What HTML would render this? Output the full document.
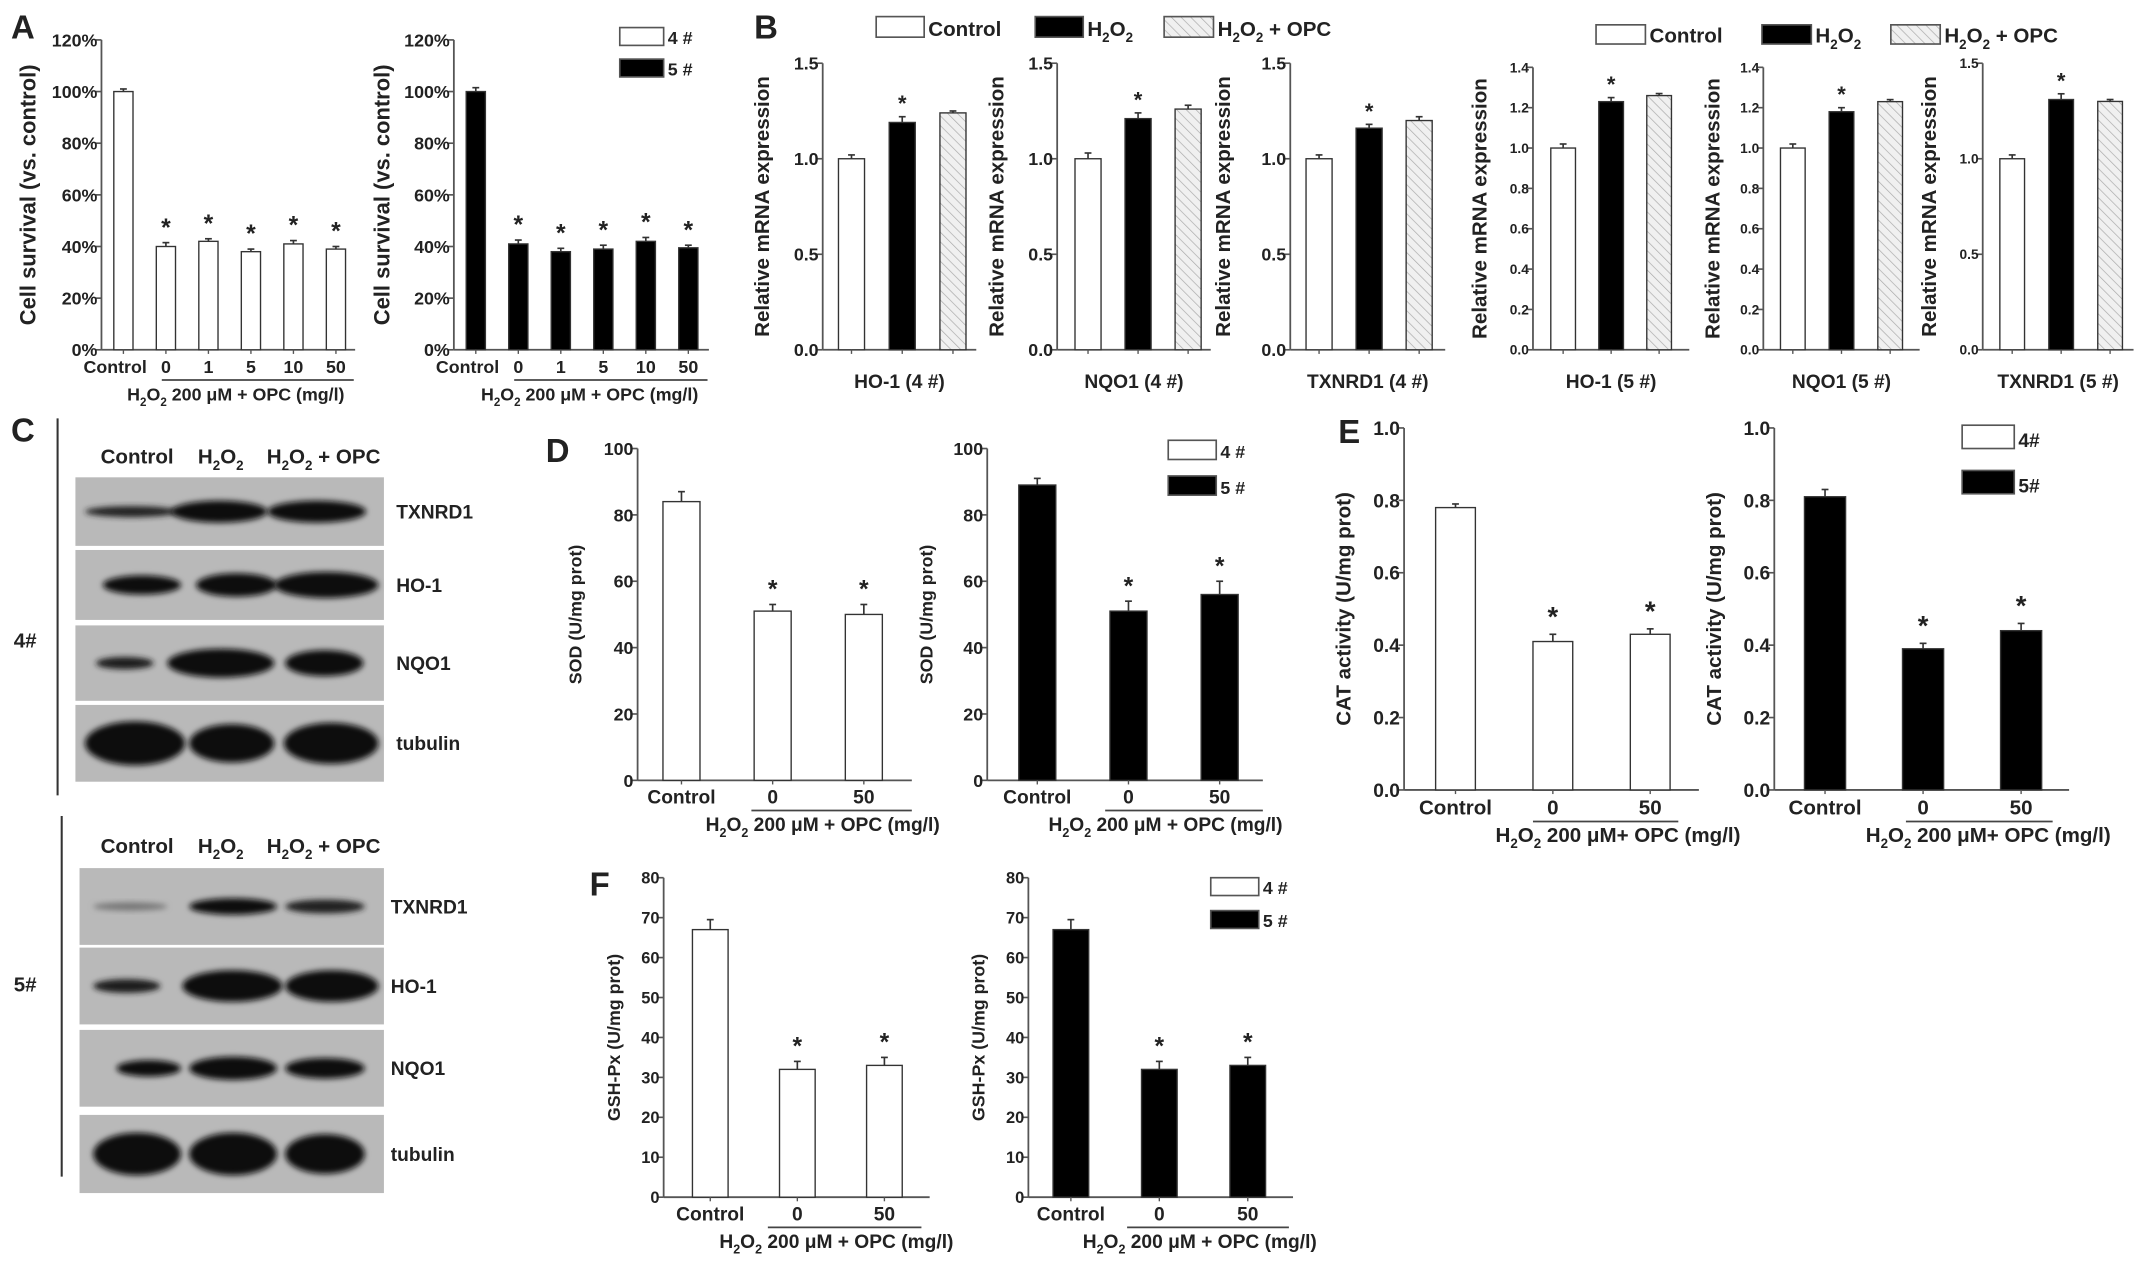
<!DOCTYPE html>
<html><head><meta charset="utf-8"><style>
html,body{margin:0;padding:0;background:#fff;}
svg{display:block;font-family:"Liberation Sans",sans-serif;font-weight:bold;}
</style></head><body>
<svg id="fig" xmlns="http://www.w3.org/2000/svg" width="2150" height="1270" viewBox="0 0 1568 926">
<defs>
<pattern id="hatch" patternUnits="userSpaceOnUse" width="5" height="5" patternTransform="rotate(-45)">
<rect width="5" height="5" fill="#f0f0f0"/><line x1="0" y1="0" x2="0" y2="5" stroke="#aaa" stroke-width="1"/>
</pattern>
<filter id="blur" x="-20%" y="-50%" width="140%" height="200%"><feGaussianBlur stdDeviation="2.2"/></filter>
</defs>
<g id="charts"></g>
<g id="blots"></g>
</svg>
<script>
// ---- data ----
const survCats=["Control","0","1","5","10","50"];
const surv4=[100,40,42,38,41,39];
const surv4Err=[1,1.5,1,1,1.3,1];
const surv5=[100,41,38,39,42,39.5];
const surv5Err=[1.5,1.5,1.3,1.5,1.5,1];
const survStars=[false,true,true,true,true,true];
const survTicks=[0,20,40,60,80,100,120];
const mrnaGroups=["Control","H2O2","H2O2 + OPC"];
const ho1_4=[1.0,1.19,1.24], ho1_4Err=[0.02,0.03,0.01];
const nqo1_4=[1.0,1.21,1.26], nqo1_4Err=[0.03,0.03,0.02];
const txnrd1_4=[1.0,1.16,1.20], txnrd1_4Err=[0.02,0.02,0.02];
const ho1_5=[1.0,1.23,1.26], ho1_5Err=[0.02,0.02,0.01];
const nqo1_5=[1.0,1.18,1.23], nqo1_5Err=[0.02,0.02,0.01];
const txnrd1_5=[1.0,1.31,1.30], txnrd1_5Err=[0.02,0.03,0.01];
const mrnaStars=[false,true,false];
const ticks15=[0,0.5,1.0,1.5];
const ticks14=[0,0.2,0.4,0.6,0.8,1.0,1.2,1.4];
const enzCats=["Control","0","50"];
const sod4=[84,51,50], sod4Err=[3,2,3];
const sod5=[89,51,56], sod5Err=[2,3,4];
const cat4=[0.78,0.41,0.43], cat4Err=[0.01,0.02,0.015];
const cat5=[0.81,0.39,0.44], cat5Err=[0.02,0.015,0.02];
const gsh4=[67,32,33], gsh4Err=[2.5,2,2];
const gsh5=[67,32,33], gsh5Err=[2.5,2,2];
const enzStars=[false,true,true];
const sodTicks=[0,20,40,60,80,100];
const catTicks=[0,0.2,0.4,0.6,0.8,1.0];
const gshTicks=[0,10,20,30,40,50,60,70,80];

const NS="http://www.w3.org/2000/svg";
const root=document.getElementById('charts');
function el(tag,attrs,parent){const e=document.createElementNS(NS,tag);for(const k in attrs)e.setAttribute(k,attrs[k]);(parent||root).appendChild(e);return e;}
function txt(s,x,y,size,anchor,parent){const t=el('text',{x:x,y:y,'font-size':size,'text-anchor':anchor||'middle',fill:'#222'},parent);t.textContent=s;return t;}
function h2o2(parent,x,y,size,anchor,suffix){
  const t=el('text',{x:x,y:y,'font-size':size,'text-anchor':anchor||'start',fill:'#222'},parent);
  const parts=[["H",0],["2",1],["O",0],["2",1]];
  parts.forEach(p=>{const s=el('tspan',{},t);s.textContent=p[0];if(p[1]){s.setAttribute('font-size',size*0.65);s.setAttribute('dy',size*0.3);}else{s.setAttribute('dy',-0.0);} });
  const kids=t.childNodes; kids[2].setAttribute('dy',-size*0.3);
  if(suffix){const s=el('tspan',{dy:-size*0.3},t);s.textContent=suffix;}
  return t;
}

function chart(c){
  const g=el('g',{});
  
  
  const yMax=c.ticks[c.ticks.length-1];
  const ys=v=>c.yBot-(v/yMax)*(c.yBot-c.yTop);
  const xs=i=>c.x0+i*c.step;
  const ya=el('line',{x1:c.ax,y1:c.yTop,x2:c.ax,y2:c.yBot,stroke:'#555','stroke-width':1.3},g);
  
  
  const xa=el('line',{x1:c.ax,y1:c.yBot,x2:c.xEnd,y2:c.yBot,stroke:'#555','stroke-width':1.3},g);
  
  
  c.ticks.forEach(t=>{
    const y=ys(t);
    el('line',{x1:c.ax-4,y1:y,x2:c.ax,y2:y,stroke:'#555','stroke-width':1.2},g);
    const lab=txt(c.fmt(t),c.ax-3,y+c.tf*0.36,c.tf,'end',g);
    
    
  });
  c.values.forEach((v,i)=>{
    const cx=xs(i), top=ys(v), e=c.errs[i];
    const r=el('rect',{x:cx-c.bw/2,y:top,width:c.bw,height:c.yBot-top,fill:c.fills[i],stroke:'#333','stroke-width':1},g);
    
    
    const et=ys(v+e);
    el('line',{x1:cx,y1:top,x2:cx,y2:et,stroke:'#333','stroke-width':1.2},g);
    el('line',{x1:cx-2.5,y1:et,x2:cx+2.5,y2:et,stroke:'#333','stroke-width':1.2},g);
    if(c.stars[i]){const s=txt('*',cx,et-c.starGap,c.starSize,'middle',g);
      
      }
    el('line',{x1:cx,y1:c.yBot,x2:cx,y2:c.yBot+3,stroke:'#555','stroke-width':1},g);
  });
  if(c.cats){c.cats.forEach((s,i)=>{const t=txt(s,xs(i)+(i==0?(c.ctrlShift||0):0),c.yBot+c.xlabGap,c.xf,'middle',g);
    
    });}
  if(c.xtitle){const t=txt(c.xtitle,(c.ax+c.xEnd)/2,c.yBot+c.xlabGap,c.xf,'middle',g);
    
    }
  if(c.under){
    el('line',{x1:c.under[0],y1:c.yBot+c.xlabGap+5,x2:c.under[1],y2:c.yBot+c.xlabGap+5,stroke:'#444','stroke-width':1.3},g);
    const t=h2o2(g,c.under[2],c.yBot+c.xlabGap+20,c.xf,'middle',c.under[3]);
    
    
  }
  const yl=el('text',{x:0,y:0,'font-size':c.yf,'text-anchor':'middle',fill:'#222',transform:`translate(${c.ylx},${(c.yTop+c.yBot)/2}) rotate(-90)`},g);
  yl.textContent=c.ylabel;
  
  
}
const pct=v=>v+'%', f1=v=>v.toFixed(1), f0=v=>String(v);
const W='#fff',B='#000',H='url(#hatch)';
chart({name:'survival-4',ax:74,yTop:29,yBot:255,ticks:survTicks,fmt:pct,tf:13,x0:90,step:31,bw:14,values:surv4,errs:surv4Err,fills:Array(6).fill(W),stars:survStars,starGap:5,starSize:18,xEnd:259,cats:survCats,xlabGap:17,xf:13,ctrlShift:-6,under:[118,258,172,' 200 μM + OPC (mg/l)'],ylabel:'Cell survival (vs. control)',ylx:26,yf:16});
chart({name:'survival-5',ax:331,yTop:29,yBot:255,ticks:survTicks,fmt:pct,tf:13,x0:347,step:31,bw:14,values:surv5,errs:surv5Err,fills:Array(6).fill(B),stars:survStars,starGap:5,starSize:18,xEnd:517,cats:survCats,xlabGap:17,xf:13,ctrlShift:-6,under:[375,516,430,' 200 μM + OPC (mg/l)'],ylabel:'Cell survival (vs. control)',ylx:284,yf:16});
const bf=[W,B,H];
const mB=(name,ax,x0,step,vals,errs,ticks,fmt,tf,xEnd,xt,ylx,bw)=>chart({name:name,ax:ax,yTop:(ticks.length>5?49:46),yBot:255,ticks:ticks,fmt:fmt,tf:tf,x0:x0,step:step,bw:bw,values:vals,errs:errs,fills:bf,stars:mrnaStars,starGap:4,starSize:16,xEnd:xEnd,xtitle:xt,xlabGap:28,xf:14,ylabel:'Relative mRNA expression',ylx:ylx,yf:15});
mB('ho1-4',600,621,37,ho1_4,ho1_4Err,ticks15,f1,13,712,'HO-1 (4 #)',561,19);
mB('nqo1-4',771,793.5,36.5,nqo1_4,nqo1_4Err,ticks15,f1,13,883,'NQO1 (4 #)',732,19);
mB('txnrd1-4',941,962,36.5,txnrd1_4,txnrd1_4Err,ticks15,f1,13,1054,'TXNRD1 (4 #)',897,19);
mB('ho1-5',1118,1140,35,ho1_5,ho1_5Err,ticks14,f1,10,1232,'HO-1 (5 #)',1084,18);
mB('nqo1-5',1286,1307.5,35.5,nqo1_5,nqo1_5Err,ticks14,f1,10,1400,'NQO1 (5 #)',1254,18);
mB('txnrd1-5',1446,1467.5,35.7,txnrd1_5,txnrd1_5Err,ticks15,f1,10,1556,'TXNRD1 (5 #)',1412,18);
chart({name:'sod-4',ax:465,yTop:327,yBot:569,ticks:sodTicks,fmt:f0,tf:13,x0:497,step:66.5,bw:27,values:sod4,errs:sod4Err,fills:Array(3).fill(W),stars:enzStars,starGap:5,starSize:18,xEnd:665,cats:enzCats,xlabGap:17,xf:14,under:[548,665,600,' 200 μM + OPC (mg/l)'],ylabel:'SOD (U/mg prot)',ylx:424,yf:13});
chart({name:'sod-5',ax:720,yTop:327,yBot:569,ticks:sodTicks,fmt:f0,tf:13,x0:756.5,step:66.5,bw:27,values:sod5,errs:sod5Err,fills:Array(3).fill(B),stars:enzStars,starGap:5,starSize:18,xEnd:921,cats:enzCats,xlabGap:17,xf:14,under:[806,921,850,' 200 μM + OPC (mg/l)'],ylabel:'SOD (U/mg prot)',ylx:680,yf:13});
chart({name:'cat-4',ax:1024,yTop:312,yBot:576,ticks:catTicks,fmt:f1,tf:14,x0:1061.5,step:71,bw:29,values:cat4,errs:cat4Err,fills:Array(3).fill(W),stars:enzStars,starGap:6,starSize:20,xEnd:1239,cats:enzCats,xlabGap:18,xf:15,under:[1118,1224,1180,' 200 μM+ OPC (mg/l)'],ylabel:'CAT activity (U/mg prot)',ylx:985,yf:15});
chart({name:'cat-5',ax:1294,yTop:312,yBot:576,ticks:catTicks,fmt:f1,tf:14,x0:1331,step:71.5,bw:30,values:cat5,errs:cat5Err,fills:Array(3).fill(B),stars:enzStars,starGap:6,starSize:20,xEnd:1509,cats:enzCats,xlabGap:18,xf:15,under:[1390,1497,1450,' 200 μM+ OPC (mg/l)'],ylabel:'CAT activity (U/mg prot)',ylx:1255,yf:15});
chart({name:'gsh-4',ax:484,yTop:640,yBot:873,ticks:gshTicks,fmt:f0,tf:12,x0:518,step:63.5,bw:26,values:gsh4,errs:gsh4Err,fills:Array(3).fill(W),stars:enzStars,starGap:5,starSize:18,xEnd:678,cats:enzCats,xlabGap:17,xf:14,under:[560,672,610,' 200 μM + OPC (mg/l)'],ylabel:'GSH-Px (U/mg prot)',ylx:452,yf:13});
chart({name:'gsh-5',ax:750,yTop:640,yBot:873,ticks:gshTicks,fmt:f0,tf:12,x0:781,step:64.5,bw:26,values:gsh5,errs:gsh5Err,fills:Array(3).fill(B),stars:enzStars,starGap:5,starSize:18,xEnd:943,cats:enzCats,xlabGap:17,xf:14,under:[822,940,875,' 200 μM + OPC (mg/l)'],ylabel:'GSH-Px (U/mg prot)',ylx:718,yf:13});

function legBox(x,y,w,h,fill,name){const r=el('rect',{x:x,y:y,width:w,height:h,fill:fill,stroke:'#555','stroke-width':1.2});
  
  }
function line45(items){items.forEach(it=>{legBox(it[0],it[1],it[2],it[3],it[4],'legend-swatch');
  if(it[6]){const t=h2o2(root,it[0]+it[2]+3,it[1]+it[3]-1,it[5],'start',it[7]);}
  else{const t=txt(it[7],it[0]+it[2]+3,it[1]+it[3]-1,it[5],'start');}});}
line45([[452,20,32,13,W,13,0,'4 #'],[452,43,32,13,B,13,0,'5 #'],
 [639,12,35,15,W,15,0,'Control'],[755,12,35,15,B,15,1,''],[849,12,36,15,H,15,1,' + OPC'],
 [1164,18,36,14,W,15,0,'Control'],[1285,18,36,14,B,15,1,''],[1379,18,36,14,H,15,1,' + OPC'],
 [852,321,35,14,W,13,0,'4 #'],[852,347,35,14,B,13,0,'5 #'],
 [1431,310,38,17,W,14,0,'4#'],[1431,343,38,17,B,14,0,'5#'],
 [883,640,35,13,W,13,0,'4 #'],[883,664,35,13,B,13,0,'5 #']]);
[['A',8,28],['B',550,28],['C',8,322],['D',398,337],['E',976,323],['F',430,653]].forEach(l=>{const t=txt(l[0],l[1],l[2],24,'start');
  
  });

const bl=document.getElementById('blots');
function blot(y0,headerY,rows,labelX,lineX,lineY,tag,tagY,bx){
  const hdr=el('g',{},bl);
  
  
  txt('Control',100,headerY,15,'middle',hdr);
  h2o2(hdr,161,headerY,15,'middle','');
  h2o2(hdr,236,headerY,15,'middle',' + OPC');
  const ln=el('line',{x1:lineX,y1:lineY[0],x2:lineX,y2:lineY[1],stroke:'#333','stroke-width':1.5},bl);
  
  
  const tt=txt(tag,10,tagY,15,'start',bl);
  
  
  rows.forEach(r=>{
    const g=el('g',{},bl);
    
    
    el('rect',{x:bx,y:r.y,width:280-bx,height:r.h,fill:'#b9b9b9'},g);
    const cy=r.y+r.h/2;
    r.b.forEach(b=>el('ellipse',{cx:(b[0]+b[1])/2,cy:cy,rx:(b[1]-b[0])/2,ry:b[2]/2,fill:b[3]||'#111',filter:'url(#blur)'},g));
    txt(r.n,labelX,cy+5,14,'start',g);
  });
}
blot(348,338,[
 {n:'TXNRD1',y:348,h:50,b:[[62,130,8,'#222'],[125,195,16],[195,267,16]]},
 {n:'HO-1',y:401,h:51,b:[[75,132,14],[143,202,17],[200,276,19]]},
 {n:'NQO1',y:456,h:55,b:[[70,112,9,'#1a1a1a'],[122,200,21],[208,265,19]]},
 {n:'tubulin',y:514,h:56,b:[[62,135,32],[138,200,28],[207,276,30]]}],
 289,42,[305,580],'4#',472,55);
blot(633,622,[
 {n:'TXNRD1',y:633,h:56,b:[[68,122,6,'#777'],[138,202,12],[208,266,10,'#222']]},
 {n:'HO-1',y:691,h:56,b:[[68,117,10,'#1a1a1a'],[133,206,23],[208,276,23]]},
 {n:'NQO1',y:751,h:56,b:[[85,132,12],[138,202,17],[208,266,15]]},
 {n:'tubulin',y:813,h:57,b:[[68,132,31],[138,202,31],[208,266,29]]}],
 285,45,[595,858],'5#',723,58);
</script>
</body></html>
